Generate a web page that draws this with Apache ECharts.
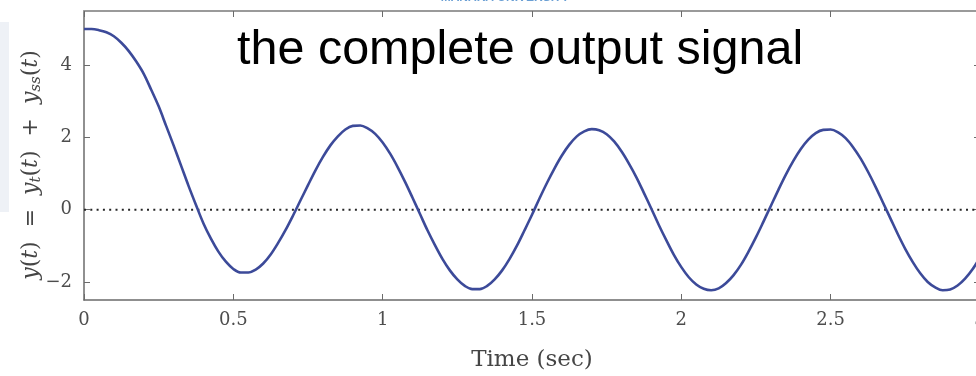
<!DOCTYPE html>
<html>
<head>
<meta charset="utf-8">
<title>the complete output signal</title>
<script src="https://cdn.jsdelivr.net/npm/echarts@6.0.0/dist/echarts.min.js"></script>
<style>
  html, body { margin: 0; padding: 0; background: #ffffff; }
  #chart { width: 976px; height: 376px; }
</style>
</head>
<body>
<div id="chart"></div>
<script>
// Sample times (s) and the total response y(t) = y_t(t) + y_ss(t)
const timeSec = [
  0.000, 0.025, 0.050, 0.075, 0.100, 0.125, 0.150, 0.175, 0.200, 0.225,
  0.250, 0.275, 0.300, 0.325, 0.350, 0.375, 0.400, 0.425, 0.450, 0.475,
  0.500, 0.525, 0.550, 0.575, 0.600, 0.625, 0.650, 0.675, 0.700, 0.725,
  0.750, 0.775, 0.800, 0.825, 0.850, 0.875, 0.900, 0.925, 0.950, 0.975,
  1.000, 1.025, 1.050, 1.075, 1.100, 1.125, 1.150, 1.175, 1.200, 1.225,
  1.250, 1.275, 1.300, 1.325, 1.350, 1.375, 1.400, 1.425, 1.450, 1.475,
  1.500, 1.525, 1.550, 1.575, 1.600, 1.625, 1.650, 1.675, 1.700, 1.725,
  1.750, 1.775, 1.800, 1.825, 1.850, 1.875, 1.900, 1.925, 1.950, 1.975,
  2.000, 2.025, 2.050, 2.075, 2.100, 2.125, 2.150, 2.175, 2.200, 2.225,
  2.250, 2.275, 2.300, 2.325, 2.350, 2.375, 2.400, 2.425, 2.450, 2.475,
  2.500, 2.525, 2.550, 2.575, 2.600, 2.625, 2.650, 2.675, 2.700, 2.725,
  2.750, 2.775, 2.800, 2.825, 2.850, 2.875, 2.900, 2.925, 2.950, 2.975,
  3.000
];
const outputY = [
  5.00, 5.00, 4.97, 4.91, 4.80, 4.62, 4.39, 4.10, 3.76, 3.32,
  2.86, 2.32, 1.78, 1.22, 0.66, 0.13, -0.38, -0.80, -1.16, -1.44,
  -1.64, -1.74, -1.74, -1.66, -1.49, -1.24, -0.92, -0.56, -0.16, 0.26,
  0.68, 1.09, 1.46, 1.78, 2.03, 2.22, 2.32, 2.33, 2.25, 2.10,
  1.86, 1.55, 1.18, 0.77, 0.33, -0.12, -0.57, -0.98, -1.36, -1.68,
  -1.93, -2.11, -2.20, -2.20, -2.11, -1.93, -1.68, -1.36, -0.99, -0.57,
  -0.14, 0.31, 0.74, 1.14, 1.50, 1.80, 2.03, 2.17, 2.23, 2.20,
  2.09, 1.89, 1.61, 1.27, 0.89, 0.46, 0.02, -0.43, -0.85, -1.25,
  -1.59, -1.87, -2.07, -2.19, -2.23, -2.18, -2.03, -1.81, -1.52, -1.16,
  -0.76, -0.33, 0.11, 0.55, 0.97, 1.35, 1.68, 1.94, 2.12, 2.21,
  2.22, 2.14, 1.98, 1.73, 1.42, 1.05, 0.64, 0.20, -0.24, -0.68,
  -1.09, -1.45, -1.76, -2.00, -2.15, -2.23, -2.21, -2.10, -1.91, -1.65,
  -1.32
];

// Axis ranges and tick positions
const timeRange = [0, 3];
const yRange = [-2.5, 5.5];
const xTicks = [0, 0.5, 1, 1.5, 2, 2.5, 3];
const yTicks = [-2, 0, 2, 4];
const zeroLevel = 0;

const curve = timeSec.map((t, i) => [t, outputY[i]]);
const zeroLine = timeRange.map(t => [t, zeroLevel]);

const serif = '"DejaVu Serif", "Liberation Serif", serif';
const frameColor = '#6b6b6b';
const labelColor = '#4d4d4d';
const nameColor = '#454545';

const fmtNum = v => String(v).replace('-', '\u2212');

const chart = echarts.init(document.getElementById('chart'), null, { renderer: 'canvas' });

chart.setOption({
  backgroundColor: '#ffffff',
  animation: false,
  grid: { left: 84, top: 11, right: -4, bottom: 76, outerBoundsMode: 'none', containLabel: false },
  xAxis: [
    {
      type: 'value',
      min: timeRange[0], max: timeRange[1], interval: 0.5,
      position: 'bottom',
      name: 'Time (sec)',
      nameLocation: 'middle',
      nameGap: 49,
      nameTextStyle: { fontFamily: serif, fontSize: 23, color: nameColor },
      axisLine: { show: true, onZero: false, lineStyle: { color: frameColor, width: 1.5 } },
      axisTick: { show: true, inside: true, length: 6, customValues: xTicks,
                  lineStyle: { color: frameColor, width: 1 } },
      axisLabel: { show: true, customValues: xTicks, margin: 11,
                   fontFamily: serif, fontSize: 18, color: labelColor,
                   formatter: fmtNum },
      splitLine: { show: false }
    },
    {
      type: 'value',
      min: timeRange[0], max: timeRange[1], interval: 0.5,
      position: 'top',
      axisLine: { show: true, onZero: false, lineStyle: { color: '#9a9a9a', width: 2 } },
      axisTick: { show: true, inside: true, length: 6, customValues: xTicks,
                  lineStyle: { color: frameColor, width: 1 } },
      axisLabel: { show: false },
      splitLine: { show: false }
    }
  ],
  yAxis: [
    {
      type: 'value',
      min: yRange[0], max: yRange[1],
      position: 'left',
      axisLine: { show: true, onZero: false, lineStyle: { color: frameColor, width: 1.5 } },
      axisTick: { show: true, inside: true, length: 6, customValues: yTicks,
                  lineStyle: { color: frameColor, width: 1 } },
      axisLabel: { show: true, customValues: yTicks, margin: 12,
                   fontFamily: serif, fontSize: 18, color: labelColor,
                   formatter: fmtNum },
      splitLine: { show: false }
    },
    {
      type: 'value',
      min: yRange[0], max: yRange[1],
      position: 'right',
      axisLine: { show: true, onZero: false, lineStyle: { color: frameColor, width: 1.5 } },
      axisTick: { show: true, inside: true, length: 6, customValues: yTicks,
                  lineStyle: { color: frameColor, width: 1 } },
      axisLabel: { show: false },
      splitLine: { show: false }
    }
  ],
  graphic: [
    {
      type: 'rect', left: 0, top: 22, z: -10, silent: true,
      shape: { width: 9, height: 190 },
      style: { fill: '#eef1f6' }
    },
    {
      type: 'text', x: 505, y: -2, silent: true,
      style: { text: 'MANARA UNIVERSITY', fontFamily: '"Liberation Sans", Arial, sans-serif',
               fontSize: 12, fontWeight: 'bold', fill: '#6a9fd4',
               align: 'center', verticalAlign: 'middle' }
    },
    {
      // vertical axis title with subscripts
      type: 'text', x: 31, y: 165, rotation: Math.PI / 2, silent: true,
      style: {
        text: '{i|y}{r|(}{i|t}{r|)  =  }{i|y}{s|t}{r|(}{i|t}{r|)  +  }{i|y}{s|ss}{r|(}{i|t}{r|)}',
        align: 'center', verticalAlign: 'middle',
        rich: {
          i: { fontFamily: serif, fontStyle: 'italic', fontSize: 22, fill: nameColor, lineHeight: 26 },
          r: { fontFamily: serif, fontSize: 22, fill: nameColor, lineHeight: 26 },
          s: { fontFamily: serif, fontStyle: 'italic', fontSize: 15, fill: nameColor, verticalAlign: 'bottom' }
        }
      }
    },
    {
      type: 'text', x: 237, y: 51, z: 100, silent: true,
      style: { text: 'the complete output signal', fontFamily: '"Liberation Sans", Arial, sans-serif',
               fontSize: 48.5, fill: '#000000', align: 'left', verticalAlign: 'middle' }
    }
  ],
  series: [
    {
      name: 'zero',
      type: 'line',
      data: zeroLine,
      showSymbol: false,
      silent: true,
      z: 1,
      lineStyle: { color: '#262626', width: 2, type: [2, 4.3] }
    },
    {
      name: 'y(t)',
      type: 'line',
      data: curve,
      smooth: 0.35,
      showSymbol: false,
      z: 3,
      lineStyle: { color: '#3c4a99', width: 2.6 }
    }
  ]
});
</script>
</body>
</html>
